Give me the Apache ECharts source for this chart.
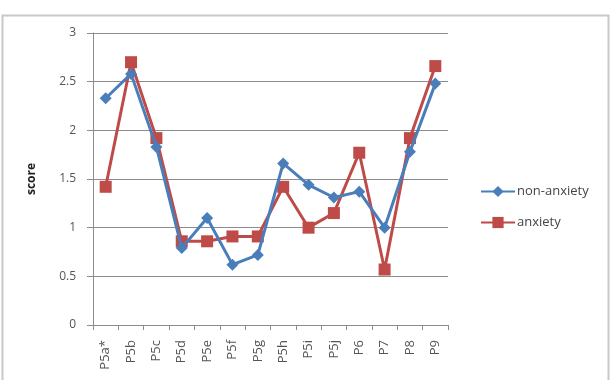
<!DOCTYPE html>
<html>
<head>
<meta charset="utf-8">
<script src="https://cdn.jsdelivr.net/npm/echarts@6/dist/echarts.min.js"></script>
<style>
  html, body { margin: 0; padding: 0; background: #fff; }
  #chart { width: 613px; height: 380px; }
</style>
</head>
<body>
<div id="chart"></div>
<script>
var categories = ['P5a*', 'P5b', 'P5c', 'P5d', 'P5e', 'P5f', 'P5g', 'P5h', 'P5i', 'P5j', 'P6', 'P7', 'P8', 'P9'];
var nonAnxiety = [2.33, 2.58, 1.83, 0.79, 1.10, 0.62, 0.72, 1.66, 1.44, 1.31, 1.37, 1.00, 1.78, 2.48];
var anxiety = [1.42, 2.70, 1.92, 0.86, 0.86, 0.91, 0.91, 1.42, 1.00, 1.15, 1.77, 0.57, 1.92, 2.66];
var yTicks = [0, 0.5, 1, 1.5, 2, 2.5, 3];

var fontFam = '"Open Sans", Lato, sans-serif';
var myChart = echarts.init(document.getElementById('chart'));

var option = {
  backgroundColor: '#fff',
  animation: false,
  graphic: [{
    type: 'rect',
    shape: { x: 2.5, y: 15.5, width: 606, height: 380 },
    style: { fill: 'none', stroke: '#c8c8c8', lineWidth: 2 },
    z: -1
  }],
  legend: {
    orient: 'vertical',
    left: 475,
    top: 180,
    itemWidth: 34,
    itemHeight: 14,
    itemGap: 18,
    textStyle: { fontFamily: fontFam, fontSize: 13, color: '#444', padding: [0, 0, 0, -3] },
    data: ['non-anxiety', 'anxiety']
  },
  grid: { left: 93, right: 165, top: 33, bottom: 55 },
  xAxis: {
    type: 'category',
    data: categories,
    boundaryGap: true,
    axisLine: { lineStyle: { color: '#8c8c8c', width: 1 } },
    axisTick: { show: true, length: 5, lineStyle: { color: '#8c8c8c' } },
    axisLabel: {
      rotate: 90,
      interval: 0,
      margin: 15,
      fontFamily: fontFam,
      fontSize: 13,
      color: '#555'
    }
  },
  yAxis: {
    type: 'value',
    min: 0,
    max: 3,
    interval: 0.5,
    name: 'score',
    nameLocation: 'middle',
    nameGap: 55,
    nameRotate: 90,
    nameTextStyle: { fontFamily: fontFam, fontSize: 12, fontWeight: 'bold', color: '#222' },
    axisLine: { show: true, lineStyle: { color: '#8c8c8c' } },
    axisTick: { show: true, length: 6, lineStyle: { color: '#8c8c8c' } },
    axisLabel: {
      fontFamily: fontFam,
      fontSize: 12,
      color: '#555',
      margin: 17,
      formatter: function (v) { return yTicks.indexOf(v) >= 0 ? String(v) : ''; }
    },
    splitLine: { lineStyle: { color: '#8c8c8c', width: 1 } }
  },
  series: [{
    name: 'non-anxiety',
    type: 'line',
    data: nonAnxiety,
    symbol: 'diamond',
    symbolSize: 12,
    itemStyle: { color: '#4a7ebb' },
    lineStyle: { color: '#4a7ebb', width: 3 },
    z: 3
  }, {
    name: 'anxiety',
    type: 'line',
    data: anxiety,
    symbol: 'rect',
    symbolSize: 12,
    itemStyle: { color: '#be4b48' },
    lineStyle: { color: '#be4b48', width: 3 },
    z: 2
  }]
};

myChart.setOption(option);
</script>
</body>
</html>
